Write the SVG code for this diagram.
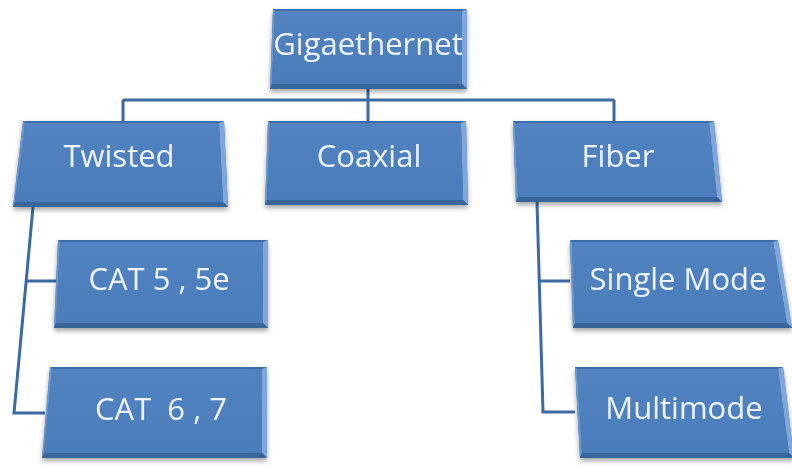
<svg xmlns="http://www.w3.org/2000/svg" width="792" height="469" viewBox="0 0 792 469">
<defs>
<filter id="sh" x="-10%" y="-10%" width="125%" height="130%">
<feDropShadow dx="0" dy="3" stdDeviation="2.5" flood-color="#000" flood-opacity="0.35"/>
</filter>
<linearGradient id="face" x1="0" y1="0" x2="0" y2="1">
<stop offset="0" stop-color="#5283C0"/>
<stop offset="1" stop-color="#4B7DBA"/>
</linearGradient>
</defs>
<style>
.out{fill:#3E6DA6}
.face{fill:url(#face)}
.rb{fill:#7FA7D9}
.bb{fill:#38659A}
.lb{fill:#6C98CF}
.t{font-family:"Open Sans","Liberation Sans",sans-serif;font-size:31px;fill:#EEF3FA;text-anchor:middle}
.c{fill:none;stroke:#3C6AA3;stroke-width:3;stroke-linejoin:miter}
</style>
<rect width="792" height="469" fill="#fff"/>
<g id="connectors">
<path class="c" d="M368,89 V100 M123,100 H614 M123,100 V121 M368,100 V121 M614,100 V121"/>
<path class="c" d="M33,207 L14,413 H45 M26,281 H58"/>
<path class="c" d="M537,202 L543,412 H575 M539,281 H570"/>
</g>
<g id="gigaethernet" filter="url(#sh)">
<polygon class="out" points="273,9 467,9 467,89 270,89"/>
<polygon class="lb" points="273,9 275,11 272,84 270,89"/>
<polygon class="rb" points="467,9 462,11 462,84 467,89"/>
<polygon class="bb" points="272,84 462,84 467,89 270,89"/>
<polygon class="face" points="275,11 462,11 462,84 272,84"/>
<text class="t" x="368" y="55">Gigaethernet</text>
</g>
<g id="twisted" filter="url(#sh)">
<polygon class="out" points="23,121 224,121 228,207 13,207"/>
<polygon class="lb" points="23,121 25,123 15,202 13,207"/>
<polygon class="rb" points="224,121 219,123 223,202 228,207"/>
<polygon class="bb" points="15,202 223,202 228,207 13,207"/>
<polygon class="face" points="25,123 219,123 223,202 15,202"/>
<text class="t" x="119" y="167">Twisted</text>
</g>
<g id="coaxial" filter="url(#sh)">
<polygon class="out" points="268,121 466,121 468,205 265,205"/>
<polygon class="lb" points="268,121 270,123 267,200 265,205"/>
<polygon class="rb" points="466,121 461,123 463,200 468,205"/>
<polygon class="bb" points="267,200 463,200 468,205 265,205"/>
<polygon class="face" points="270,123 461,123 463,200 267,200"/>
<text class="t" x="369" y="167">Coaxial</text>
</g>
<g id="fiber" filter="url(#sh)">
<polygon class="out" points="513,121 714,121 722,202 516,202"/>
<polygon class="lb" points="513,121 515,123 518,197 516,202"/>
<polygon class="rb" points="714,121 709,123 717,197 722,202"/>
<polygon class="bb" points="518,197 717,197 722,202 516,202"/>
<polygon class="face" points="515,123 709,123 717,197 518,197"/>
<text class="t" x="618" y="167">Fiber</text>
</g>
<g id="cat5" filter="url(#sh)">
<polygon class="out" points="58,240 268,240 268,328 54,328"/>
<polygon class="lb" points="58,240 60,242 56,323 54,328"/>
<polygon class="rb" points="268,240 263,242 263,323 268,328"/>
<polygon class="bb" points="56,323 263,323 268,328 54,328"/>
<polygon class="face" points="60,242 263,242 263,323 56,323"/>
<text class="t" x="159" y="290">CAT 5 , 5e</text>
</g>
<g id="cat6" filter="url(#sh)">
<polygon class="out" points="50,367 267,367 267,458 42,458"/>
<polygon class="lb" points="50,367 52,369 44,453 42,458"/>
<polygon class="rb" points="267,367 262,369 262,453 267,458"/>
<polygon class="bb" points="44,453 262,453 267,458 42,458"/>
<polygon class="face" points="52,369 262,369 262,453 44,453"/>
<text class="t" x="161" y="420" xml:space="preserve">CAT  6 , 7</text>
</g>
<g id="singlemode" filter="url(#sh)">
<polygon class="out" points="570,240 778,240 792,328 573,328"/>
<polygon class="lb" points="570,240 572,242 575,323 573,328"/>
<polygon class="rb" points="778,240 773,242 787,323 792,328"/>
<polygon class="bb" points="575,323 787,323 792,328 573,328"/>
<polygon class="face" points="572,242 773,242 787,323 575,323"/>
<text class="t" x="678" y="290">Single Mode</text>
</g>
<g id="multimode" filter="url(#sh)">
<polygon class="out" points="575,367 783,367 794,458 580,458"/>
<polygon class="lb" points="575,367 577,369 582,453 580,458"/>
<polygon class="rb" points="783,367 778,369 789,453 794,458"/>
<polygon class="bb" points="582,453 789,453 794,458 580,458"/>
<polygon class="face" points="577,369 778,369 789,453 582,453"/>
<text class="t" x="684" y="419">Multimode</text>
</g>
</svg>
